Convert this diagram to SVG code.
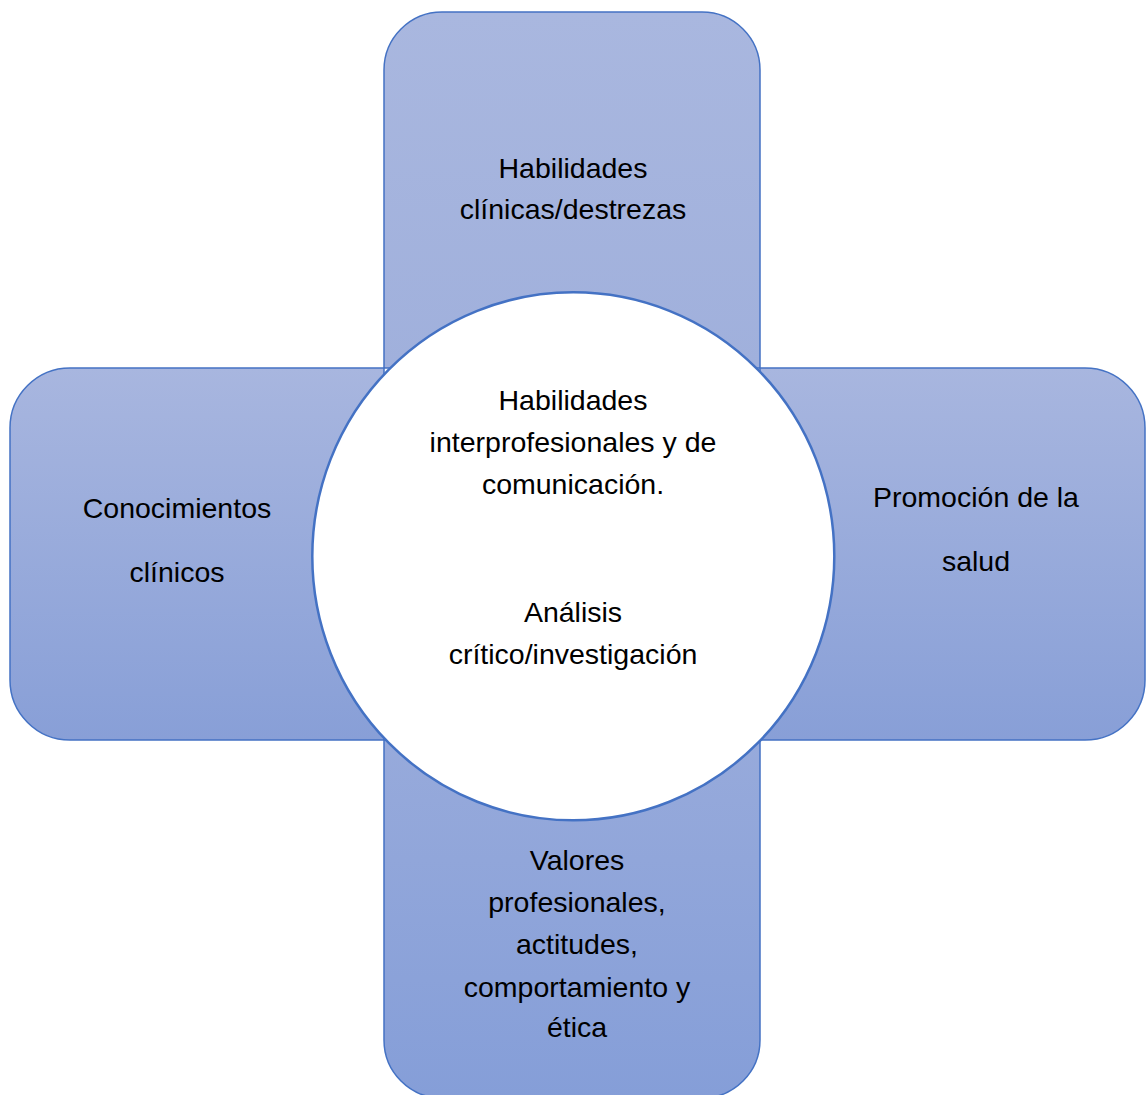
<svg xmlns="http://www.w3.org/2000/svg" width="1147" height="1095" viewBox="0 0 1147 1095">
<defs>
<linearGradient id="gTop" gradientUnits="userSpaceOnUse" x1="0" y1="12" x2="0" y2="368"><stop offset="0" stop-color="#A9B7DF"/><stop offset="1" stop-color="#A0B0DC"/></linearGradient>
<linearGradient id="gSide" gradientUnits="userSpaceOnUse" x1="0" y1="368" x2="0" y2="740"><stop offset="0" stop-color="#A8B6DF"/><stop offset="1" stop-color="#889FD7"/></linearGradient>
<linearGradient id="gBot" gradientUnits="userSpaceOnUse" x1="0" y1="740" x2="0" y2="1098"><stop offset="0" stop-color="#97AADB"/><stop offset="1" stop-color="#859ED8"/></linearGradient>
</defs>
<style>
.arm{stroke:#4472C4;stroke-width:1.5}
.hub{fill:#FFFFFF;stroke:#4472C4;stroke-width:2.5}
text{font-family:"Liberation Sans",Arial,sans-serif;font-size:28.5px;fill:#000;text-anchor:middle}
</style>
<g id="node-top">
<path class="arm" fill="url(#gTop)" d="M384,368 V70 A58,58 0 0 1 442,12 H702 A58,58 0 0 1 760,70 V368 Z"/>
<text x="573" y="178">Habilidades</text>
<text x="573" y="219">clínicas/destrezas</text>
</g>
<g id="node-left">
<path class="arm" fill="url(#gSide)" d="M384,368 H70 A60,60 0 0 0 10,428 V680 A60,60 0 0 0 70,740 H384 Z"/>
<text x="177" y="518">Conocimientos</text>
<text x="177" y="582">clínicos</text>
</g>
<g id="node-right">
<path class="arm" fill="url(#gSide)" d="M760,368 H1085 A60,60 0 0 1 1145,428 V680 A60,60 0 0 1 1085,740 H760 Z"/>
<text x="976" y="507">Promoción de la</text>
<text x="976" y="571">salud</text>
</g>
<g id="node-bottom">
<path class="arm" fill="url(#gBot)" d="M384,740 V1040 A58,58 0 0 0 442,1098 H702 A58,58 0 0 0 760,1040 V740 Z"/>
<text x="577" y="870">Valores</text>
<text x="577" y="912">profesionales,</text>
<text x="577" y="954">actitudes,</text>
<text x="577" y="997">comportamiento y</text>
<text x="577" y="1037">ética</text>
</g>
<g id="node-center">
<ellipse class="hub" cx="573.3" cy="556.3" rx="261" ry="264"/>
<text x="573" y="410">Habilidades</text>
<text x="573" y="452">interprofesionales y de</text>
<text x="573" y="494">comunicación.</text>
<text x="573" y="622">Análisis</text>
<text x="573" y="664">crítico/investigación</text>
</g>
<g id="connectors"></g>
</svg>
